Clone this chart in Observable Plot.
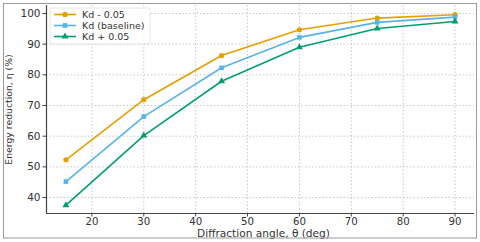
<!DOCTYPE html>
<html>
<head>
<meta charset="utf-8">
<script src="https://cdn.jsdelivr.net/npm/d3@7"></script>
<script src="https://cdn.jsdelivr.net/npm/@observablehq/plot@0.6"></script>
<style>
  html, body { margin: 0; padding: 0; background: #fff; }
  svg { display: block; }
</style>
</head>
<body>
<div id="chart"></div>
<script>
const angles = [15, 30, 45, 60, 75, 90];
const kdMinus = [52.3, 71.9, 86.3, 94.7, 98.5, 99.6];
const kdBase = [45.2, 66.4, 82.3, 92.2, 97.1, 98.8];
const kdPlus = [37.5, 60.2, 77.9, 89.0, 95.1, 97.4];
const seriesNames = ["Kd - 0.05", "Kd (baseline)", "Kd + 0.05"];
const seriesColors = ["#E69F00", "#56B4E9", "#009E73"];
const seriesSymbols = ["circle", "square", "triangle"];
const xTicks = [20, 30, 40, 50, 60, 70, 80, 90];
const yTicks = [40, 50, 60, 70, 80, 90, 100];

const allSeries = [kdMinus, kdBase, kdPlus];
const rows = [];
allSeries.forEach((vals, si) => {
  vals.forEach((v, i) => rows.push({series: seriesNames[si], angle: angles[i], value: v}));
});

const xDom = [11.25, 93.75];
const yDom = [34.8, 102.6];
const font = "DejaVu Sans, sans-serif";

const plot = Plot.plot({
  width: 480,
  height: 242,
  marginLeft: 46,
  marginRight: 6,
  marginTop: 5,
  marginBottom: 29,
  style: {fontFamily: font, fontSize: "10px", color: "#333", background: "#fff"},
  x: {domain: xDom},
  y: {domain: yDom},
  color: {domain: seriesNames, range: seriesColors},
  symbol: {domain: seriesNames, range: seriesSymbols},
  marks: [
    Plot.gridX(xTicks, {stroke: "#bbb", strokeOpacity: 1, strokeDasharray: "1.5,2", strokeWidth: 0.8}),
    Plot.gridY(yTicks, {stroke: "#bbb", strokeOpacity: 1, strokeDasharray: "1.5,2", strokeWidth: 0.8}),
    Plot.axisX({ticks: xTicks, tickSize: 3.5, tickPadding: 1, label: null, fontSize: 10.2, stroke: "#444", fill: "#333"}),
    Plot.axisY({ticks: yTicks, tickSize: 3.5, tickPadding: 2.5, label: null, fontSize: 10.5, stroke: "#444", fill: "#333"}),
    Plot.ruleX([xDom[0]], {stroke: "#444", strokeWidth: 1.2}),
    Plot.ruleY([yDom[0]], {stroke: "#444", strokeWidth: 1.2}),
    Plot.line(rows, {x: "angle", y: "value", z: "series", stroke: "series", strokeWidth: 1.6}),
    Plot.dot(rows, {x: "angle", y: "value", fill: "series", symbol: "series", r: 2.6, stroke: "none"}),
    Plot.text(["Diffraction angle, θ (deg)"], {frameAnchor: "bottom", dx: 3, dy: 20.5, fontSize: 10.6, fill: "#333", lineAnchor: "middle", textAnchor: "middle"}),
    Plot.text(["Energy reduction, η (%)"], {frameAnchor: "left", dx: -37, rotate: -90, fontSize: 9.3, fill: "#333", lineAnchor: "middle", textAnchor: "middle"})
  ]
});

document.getElementById("chart").appendChild(plot);

const svg = d3.select(plot);
// figure border
svg.append("rect")
  .attr("x", 3.5).attr("y", 3.5).attr("width", 473).attr("height", 234.5)
  .attr("fill", "none").attr("stroke", "#999").attr("stroke-width", 1);

// legend
const lg = svg.append("g").attr("transform", "translate(50,8)");
lg.append("rect").attr("x", 0).attr("y", 0).attr("width", 100).attr("height", 36)
  .attr("rx", 2).attr("fill", "#fff").attr("fill-opacity", 0.85)
  .attr("stroke", "#ddd").attr("stroke-width", 0.8);
seriesNames.forEach((name, i) => {
  const yy = 6.5 + i * 11;
  lg.append("line").attr("x1", 4).attr("x2", 26).attr("y1", yy).attr("y2", yy)
    .attr("stroke", seriesColors[i]).attr("stroke-width", 1.6);
  const sym = d3.symbol().type([d3.symbolCircle, d3.symbolSquare, d3.symbolTriangle][i]).size(22);
  lg.append("path").attr("d", sym()).attr("transform", `translate(15,${yy})`).attr("fill", seriesColors[i]);
  lg.append("text").attr("x", 32).attr("y", yy).attr("dy", "0.35em")
    .attr("text-anchor", "start")
    .attr("font-family", font).attr("font-size", 9.5).attr("fill", "#333").text(name);
});
</script>
</body>
</html>
